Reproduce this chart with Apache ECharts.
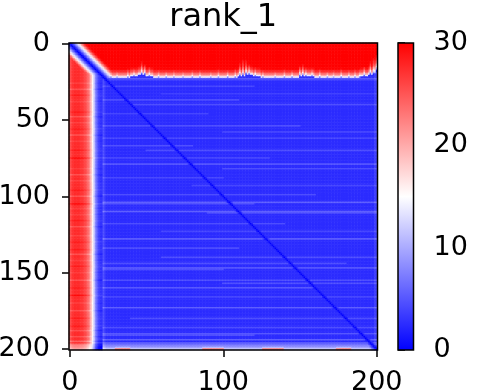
<!DOCTYPE html>
<html>
<head>
<meta charset="utf-8">
<script src="https://cdn.jsdelivr.net/npm/echarts@6/dist/echarts.min.js"></script>
<style>html,body{margin:0;padding:0;background:#fff}#c{width:484px;height:392px}</style>
</head>
<body>
<div id="c"></div>
<script>
// ---- data ----
const N = 201;                                   // residues 0..200
const residues = Array.from({length: N}, (_, k) => String(k));
const xTickLabels = [0, 100, 200];
const yTickLabels = [0, 50, 100, 150, 200];
const cbarTicks = [0, 10, 20, 30];
const peptideLen = 22;                           // first rows/cols (peptide block)
// value vs distance from the diagonal (caps the whole matrix)
const diagProfile = [0, 2, 4.5, 7.5, 10.5, 13.5, 17, 21, 24.5, 27.5, 29.5, 31];
// first blue row under the top red band, one value per 5 columns
const topEdgeBy5 = [23,23,23,23,23,23,23,23,22,21,22,23,23,23,23,23,23,23,23,23,23,
                    23,22,21,22,23,23,23,23,23,22,22,23,23,23,23,23,23,22,21,19];
// top-band value by number of rows above its lower edge
const edgeProfile = [14, 20, 23.5, 26, 28, 29.5, 31];
// lighter vertical streaks in the top band: [column, depth in rows, strength]
const topStreaks = [[27,5,5],[31,4,4],[38,6,6],[42,5,5],[47,10,10],[49,8,8],[52,7,6],[58,5,5],
                    [63,4,5],[68,5,4],[74,4,4],[80,5,5],[85,5,5],[92,4,4],[97,6,5],[103,5,6],
                    [108,7,6],[111,10,10],[113,12,12],[115,11,10],[117,8,8],[121,6,6],[126,5,5],
                    [134,4,4],[140,6,5],[145,5,6],[150,8,8],[152,9,10],[154,6,6],[158,5,5],
                    [163,6,6],[168,4,5],[172,5,4],[177,6,6],[182,5,5],[186,6,5],[189,6,6],
                    [192,7,8],[196,10,10],[198,12,12],[199,11,10],[200,12,14]];
// left band value by column
const leftProfile = [25,26,27,27.5,27.5,27.5,27.5,27,27,26.5,26,25,24,22,19,15.5,12,8,5.5,4,3,3];
// left band per-row shifts: [row, shift]
const leftRowShift = [[26,-1],[30,-2],[34,1],[38,-1],[45,1],[48,-2],[52,-1],[56,1],[60,-2],[64,-1],
                      [70,1],[75,2],[82,-1],[86,-2],[90,-1],[96,1],[100,-2],[105,2],[108,-1],[112,-1],
                      [116,1],[120,-2],[126,-1],[130,1],[135,1],[138,-2],[142,-1],[146,1],[150,-1],
                      [155,-2],[160,1],[165,2],[170,-1],[175,-2],[180,1],[185,1],[188,-2],[192,-2],
                      [195,-3],[197,-4],[198,-5],[199,-6],[200,-7]];
const bulkBase = 2.6;
// lighter horizontal streaks in the blue area: [row, added value, first column, last column]
const bulkRowStreaks = [[23,2.5,22,200],[24,1,22,200],[28,1.5,22,120],[33,1,60,200],[37,2,22,110],
                        [40,2,40,200],[46,1.5,22,90],[54,2,22,150],[58,1.5,100,200],[62,1.5,22,200],
                        [67,2,22,80],[70,2,50,200],[75,1.5,22,130],[79,2.5,22,200],[82,2,100,200],
                        [88,1.5,22,100],[93,1.5,80,200],[99,2,22,160],[104,3,22,200],[105,2,22,120],
                        [110,3,22,200],[111,2,90,200],[118,2,22,140],[123,1.5,60,200],[128,3,22,200],
                        [134,2,22,110],[140,2,60,200],[144,2,22,180],[147,2.5,22,200],[148,2,22,100],
                        [155,2,22,200],[157,2,100,200],[160,2.5,22,160],[166,1.5,22,200],[173,3,22,200],
                        [180,2,40,200],[186,2,22,200],[190,2.5,22,200],[191,2,22,120],[194,3,22,200],
                        [196,2.5,22,200],[197,4,22,200],[198,5,22,200],[199,7,22,200],[200,9,22,200]];
// faint vertical streaks: [column, added value]
const bulkColStreaks = [[22,2],[23,1],[199,1],[200,1.5]];
// red specks along the last rows: column ranges, rows and their values
const bottomSpeckCols = [[30,39],[87,100],[126,139],[174,183]];
const bottomSpeckRows = [199, 200];
const bottomSpeckVals = [11, 22];

// ---- build the matrix from the arrays above ----
const rowStreak = Array.from({length: N}, () => []);
bulkRowStreaks.forEach(([r, a, c0, c1]) => rowStreak[r].push([a, c0, c1]));
const colAdd = new Array(N).fill(0); bulkColStreaks.forEach(([c, a]) => colAdd[c] = a);
const leftAdd = new Array(N).fill(0); leftRowShift.forEach(([r, a]) => leftAdd[r] = a);
function prof(d) { return d < diagProfile.length ? diagProfile[d] : diagProfile[diagProfile.length - 1]; }
function bulk(i, j) {
  let v = bulkBase + colAdd[j];
  for (const [a, c0, c1] of rowStreak[i]) if (j >= c0 && j <= c1) v += a;
  const sr = bottomSpeckRows.indexOf(i);
  if (sr >= 0) for (const [a, b] of bottomSpeckCols) if (j >= a && j <= b) v = Math.max(v, bottomSpeckVals[sr]);
  return v;
}
function leftVal(i, j) {
  const lp = leftProfile[j];
  const b = bulk(i, j);
  if (lp <= b) return b;
  return lp + (lp > 20 ? leftAdd[i] : leftAdd[i] * 0.5);
}
function cell(i, j) {
  const d = Math.abs(i - j);
  let v;
  if (i < peptideLen && j < peptideLen) {
    v = j >= i ? 31 : leftVal(i, j);
  } else if (j >= peptideLen && i < topEdgeBy5[Math.floor(j / 5)]) {
    const k = topEdgeBy5[Math.floor(j / 5)] - 1 - i;
    v = edgeProfile[Math.min(k, edgeProfile.length - 1)];
    for (const [c, depth, s] of topStreaks) if (c === j && k < depth) v -= s * (1 - k / depth);
  } else if (j < peptideLen) {
    v = leftVal(i, j);
  } else {
    v = bulk(i, j);
  }
  v = Math.min(v, prof(d));
  return Math.max(0, Math.min(30, v));
}
const data = [];
for (let i = 0; i < N; i++) for (let j = 0; j < N; j++) data.push([j, i, cell(i, j)]);

// ---- chart ----
const FONT = 'DejaVu Sans';
const showX = (idx) => xTickLabels.includes(idx);
const showY = (idx) => yTickLabels.includes(idx);
const chart = echarts.init(document.getElementById('c'), null, {renderer: 'canvas'});
const G = {left: 69, top: 43, width: 308.5, height: 307};
const CB = {left: 398, top: 43, width: 15.5, height: 307};
const tickStyle = {color: '#000', width: 1.5};
const labelStyle = {fontFamily: FONT, fontSize: 27, color: '#000'};
chart.setOption({
  animation: false,
  backgroundColor: '#ffffff',
  title: {text: 'rank_1', left: G.left + G.width / 2, top: 2, textAlign: 'center', padding: 0,
          textStyle: {fontFamily: FONT, fontSize: 32, fontWeight: 'normal', color: '#000'}},
  grid: [
    {left: G.left, top: G.top, width: G.width, height: G.height, show: false,
     containLabel: false, outerBoundsMode: 'none'},
    {left: CB.left, top: CB.top, width: CB.width, height: CB.height, show: false,
     containLabel: false, outerBoundsMode: 'none'}
  ],
  xAxis: [
    {type: 'category', data: residues, gridIndex: 0, position: 'bottom',
     axisLine: {show: false}, splitLine: {show: false},
     axisTick: {show: true, interval: showX, alignWithLabel: true, length: 7, lineStyle: tickStyle},
     axisLabel: Object.assign({interval: showX, margin: 19}, labelStyle)},
    {type: 'value', gridIndex: 1, show: false, min: 0, max: 1}
  ],
  yAxis: [
    {type: 'category', data: residues, gridIndex: 0, inverse: true,
     axisLine: {show: false}, splitLine: {show: false},
     axisTick: {show: true, interval: showY, alignWithLabel: true, length: 7, lineStyle: tickStyle},
     axisLabel: Object.assign({interval: showY, margin: 19}, labelStyle)},
    {type: 'value', gridIndex: 1, min: cbarTicks[0], max: cbarTicks[cbarTicks.length - 1], interval: 10,
     position: 'right', axisLine: {show: false}, splitLine: {show: false},
     axisTick: {show: true, length: 7, lineStyle: tickStyle},
     axisLabel: Object.assign({margin: 20}, labelStyle)}
  ],
  visualMap: {show: false, type: 'continuous', min: 0, max: 30, dimension: 2, seriesIndex: 0,
              inRange: {color: ['#0000ff', '#ffffff', '#ff0000']}},
  graphic: [
    {type: 'rect', z: 100, silent: true,
     shape: {x: CB.left, y: CB.top, width: CB.width, height: CB.height},
     style: {fill: new echarts.graphic.LinearGradient(0, 0, 0, 1, [
       {offset: 0, color: '#ff0000'}, {offset: 0.5, color: '#ffffff'}, {offset: 1, color: '#0000ff'}]),
       stroke: '#000', lineWidth: 1.5}},
    {type: 'rect', z: 100, silent: true,
     shape: {x: G.left, y: G.top, width: G.width, height: G.height},
     style: {fill: null, stroke: '#000', lineWidth: 1.5}}
  ],
  series: [{type: 'heatmap', xAxisIndex: 0, yAxisIndex: 0, data: data, progressive: 0,
            emphasis: {disabled: true}, silent: true}]
});
</script>
</body>
</html>
